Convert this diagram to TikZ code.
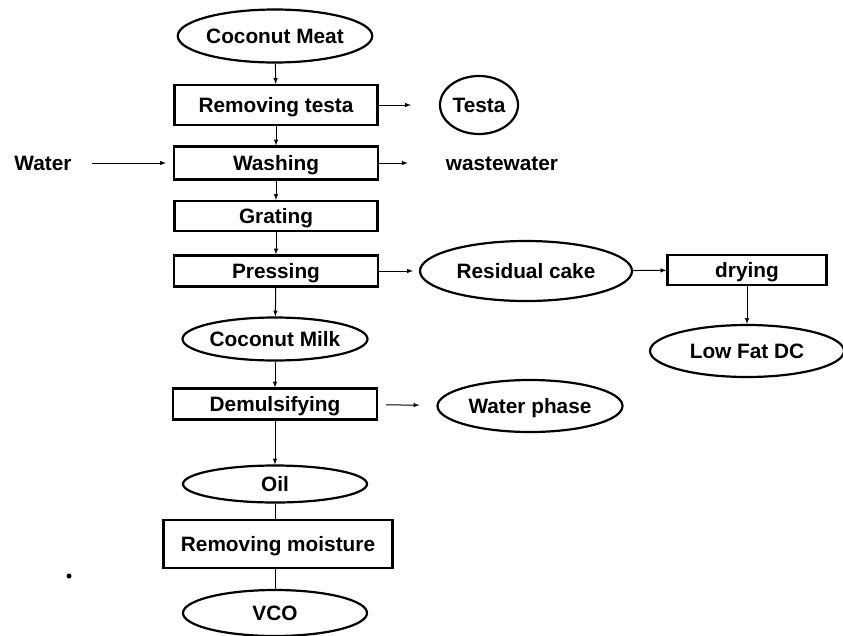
\documentclass[tikz,border=0pt]{standalone}
\usepackage{fontspec}
\setmainfont{Liberation Sans}
\usetikzlibrary{shapes.geometric}

\begin{document}
\begin{tikzpicture}
    [
        x=1pt, y=-1pt,
        every node/.style={font=\fontsize{20.8}{24}\selectfont\bfseries, text height=14.5pt, text depth=0pt,},
        product/.style={ellipse, draw, line width=2.2pt, inner sep=0pt,},
        process/.style={rectangle, draw, line width=2.2pt, inner sep=0pt,},
        label/.style={inner sep=0pt,},
        edge/.style={-latex, line width=1pt,},
        link/.style={line width=1pt,},
    ]
    \useasboundingbox (0,0) rectangle (843,635);

    % main line
    \node (meat)     at (275,36)  [product, minimum width=185pt, minimum height=53pt] {Coconut Meat};
    \node (rtesta)   at (276,105) [process, minimum width=203pt, minimum height=40pt] {Removing testa};
    \node (washing)  at (276,163) [process, minimum width=204pt, minimum height=33pt] {Washing};
    \node (grating)  at (276,216) [process, minimum width=203pt, minimum height=30pt] {Grating};
    \node (pressing) at (276,271) [process, minimum width=204pt, minimum height=31pt] {Pressing};
    \node (milk)     at (275,339) [product, minimum width=185pt, minimum height=43pt] {Coconut Milk};
    \node (demuls)   at (275,404) [process, minimum width=204pt, minimum height=31pt] {Demulsifying};
    \node (oil)      at (275,484) [product, minimum width=184pt, minimum height=37pt] {Oil};
    \node (moisture) at (278,544) [process, minimum width=229pt, minimum height=48pt] {Removing moisture};
    \node (vco)      at (275,613) [product, minimum width=184pt, minimum height=46pt] {VCO};

    % side streams
    \node (water)    at (43,163)  [label] {Water};
    \node (testa)    at (479,105) [product, minimum width=78pt, minimum height=58pt] {Testa};
    \node (waste)    at (502,163) [label] {wastewater};
    \node (residual) at (526,271) [product, minimum width=212pt, minimum height=60pt] {Residual cake};
    \node (drying)   at (747,270) [process, minimum width=159pt, minimum height=30pt] {drying};
    \node (lowfat)   at (747,351) [product, minimum width=194pt, minimum height=52pt] {Low Fat DC};
    \node (wphase)   at (530,406) [product, minimum width=185pt, minimum height=52pt] {Water phase};

    \fill (69,576) circle (2.5pt);

    \draw [edge] (meat) -- (rtesta);
    \draw [edge] (rtesta) -- (washing);
    \draw [edge] (washing) -- (grating);
    \draw [edge] (grating) -- (pressing);
    \draw [edge] (pressing) -- (milk);
    \draw [edge] (milk) -- (demuls);
    \draw [edge] (demuls) -- (oil);
    \draw [link] (oil.south) -- (oil.south |- moisture.north);
    \draw [link] (vco.north |- moisture.south) -- (vco.north);

    \draw [edge, shorten >=28pt] (rtesta) -- (testa);
    \draw [edge, shorten <=20pt, shorten >=7pt] (water) -- (washing);
    \draw [edge, shorten >=38pt] (washing) -- (waste);
    \draw [edge, shorten >=6pt] (pressing) -- (residual);
    \draw [edge] (residual) -- (drying);
    \draw [edge] (drying) -- (lowfat);
    \draw [edge, shorten <=8pt, shorten >=17pt] (demuls) -- (wphase);
\end{tikzpicture}
\end{document}
